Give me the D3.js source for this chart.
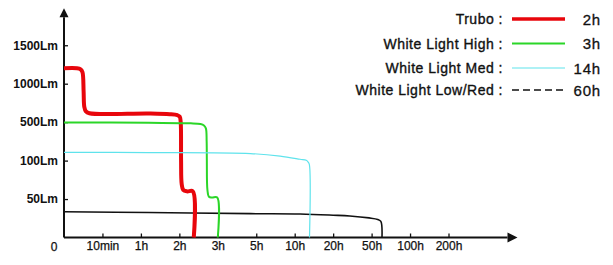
<!DOCTYPE html>
<html>
<head>
<meta charset="utf-8">
<script src="https://cdn.jsdelivr.net/npm/d3@7"></script>
<style>
body { margin: 0; background: #fff; }
text { font-family: "Liberation Sans", Arial, sans-serif; fill: #111; }
</style>
</head>
<body>
<div id="chart"></div>
<script>
var width = 613;
var height = 265;

// tick values (hours / lumens) and their labels
var xTicks = [0, 1 / 6, 1, 2, 3, 5, 10, 20, 50, 100, 200];
var xLabels = ["0", "10min", "1h", "2h", "3h", "5h", "10h", "20h", "50h", "100h", "200h"];
var yTicks = [0, 50, 100, 500, 1000, 1500];
var yLabels = ["0", "50Lm", "100Lm", "500Lm", "1000Lm", "1500Lm"];

// [hours, lumens]
var turbo = [[0, 1200], [0.056, 1200], [0.072, 1186], [0.080, 1150], [0.085, 900], [0.088, 700],
    [0.095, 640], [0.11, 615], [1.2, 612], [1.75, 603], [1.95, 590], [2.01, 572], [2.035, 500],
    [2.045, 100], [2.06, 70], [2.1, 62], [2.2, 60], [2.35, 60], [2.375, 0]];
var high = [[0, 497], [1.2, 493], [2.3, 488], [2.55, 480], [2.64, 466], [2.69, 435], [2.71, 300],
    [2.715, 100], [2.73, 62], [2.77, 53], [2.85, 52], [2.985, 52], [3.0, 0]];
var med = [[0, 186], [1.2, 183], [4.7, 173], [8.1, 147], [11.4, 114], [13.0, 103], [13.5, 98],
    [13.8, 95], [13.85, 0]];
var low = [[0, 33.5], [1.2, 32.5], [4.7, 31], [11.4, 30.5], [20, 29], [33, 28], [48, 25.5],
    [58, 23.5], [62, 21], [63.5, 0]];

var seriesNames = ["Trubo :", "White Light High :", "White Light Med :", "White Light Low/Red :"];
var seriesHours = ["2h", "3h", "14h", "60h"];
var seriesData = [turbo, high, med, low];
var seriesColors = ["#e8060c", "#2bd628", "#5fe3ec", "#111"];
var seriesWidths = [4, 2, 1.2, 1.6];

var x0 = 64, y0 = 237.5, step = 38.45;

var x = d3.scaleLinear()
    .domain(xTicks)
    .range(xTicks.map(function (d, i) { return x0 + i * step; }));

var y = d3.scaleLinear()
    .domain(yTicks)
    .range(yTicks.map(function (d, i) { return y0 - i * step; }));

var svg = d3.select("#chart").append("svg")
    .attr("width", width)
    .attr("height", height);

// x axis
var xAxis = d3.axisBottom(x)
    .tickValues(xTicks.slice(1))
    .tickFormat(function (d) { return xLabels[xTicks.indexOf(d)]; })
    .tickSizeInner(-4)
    .tickSizeOuter(0)
    .tickPadding(4);

var gx = svg.append("g")
    .attr("transform", "translate(0," + y0 + ")")
    .call(xAxis);
gx.select(".domain").remove();
gx.selectAll("line").attr("stroke", "#111").attr("stroke-width", 1.3);
gx.selectAll("text").attr("font-size", 12).attr("fill", "#111")
    .attr("stroke", "#111").attr("stroke-width", 0.25)
    .attr("font-family", "Liberation Sans, Arial, sans-serif");

svg.append("text")
    .attr("x", x(0) - 10)
    .attr("y", 251)
    .attr("text-anchor", "middle")
    .attr("font-size", 12)
    .attr("stroke", "#111").attr("stroke-width", 0.25)
    .text(xLabels[0]);

// y axis
var yAxis = d3.axisLeft(y)
    .tickValues(yTicks.slice(1))
    .tickFormat(function (d) { return yLabels[yTicks.indexOf(d)]; })
    .tickSizeInner(-4)
    .tickSizeOuter(0)
    .tickPadding(6);

var gy = svg.append("g")
    .attr("transform", "translate(" + x0 + ",0)")
    .call(yAxis);
gy.select(".domain").remove();
gy.selectAll("line").attr("stroke", "#111").attr("stroke-width", 1.3);
gy.selectAll("text").attr("font-size", 12).attr("font-weight", "bold").attr("fill", "#111")
    .attr("font-family", "Liberation Sans, Arial, sans-serif");

// axis lines with arrow heads
var xEnd = x(200) + 59;
var yTop = y(1500) - 28;
svg.append("line")
    .attr("x1", x0).attr("y1", y0).attr("x2", xEnd).attr("y2", y0)
    .attr("stroke", "#111").attr("stroke-width", 2);
svg.append("line")
    .attr("x1", x0).attr("y1", y0).attr("x2", x0).attr("y2", yTop)
    .attr("stroke", "#111").attr("stroke-width", 2);
svg.append("path")
    .attr("d", "M" + (xEnd + 10) + "," + y0 + "L" + xEnd + "," + (y0 - 5) + "L" + xEnd + "," + (y0 + 5) + "Z")
    .attr("fill", "#111");
svg.append("path")
    .attr("d", "M" + x0 + "," + (yTop - 9) + "L" + (x0 - 4.5) + "," + yTop + "L" + (x0 + 4.5) + "," + yTop + "Z")
    .attr("fill", "#111");

// curves
var line = d3.line()
    .x(function (d) { return x(d[0]); })
    .y(function (d) { return y(d[1]); })
    .curve(d3.curveCatmullRom.alpha(0.5));

var order = [3, 0, 1, 2];
order.forEach(function (i) {
    svg.append("path")
        .datum(seriesData[i])
        .attr("d", line)
        .attr("fill", "none")
        .attr("stroke", seriesColors[i])
        .attr("stroke-width", seriesWidths[i])
        .attr("stroke-linejoin", "round");
});

// legend
var legendY = [19, 43.5, 68, 90];
var legend = svg.append("g");
seriesNames.forEach(function (name, i) {
    legend.append("text")
        .attr("x", 503)
        .attr("y", legendY[i] + 5)
        .attr("text-anchor", "end")
        .attr("font-size", 14)
        .attr("letter-spacing", 0.5)
        .attr("stroke", "#111").attr("stroke-width", 0.35)
        .text(name);
    legend.append("line")
        .attr("x1", 512).attr("x2", 565)
        .attr("y1", legendY[i]).attr("y2", legendY[i])
        .attr("stroke", seriesColors[i])
        .attr("stroke-width", i == 3 ? 1.5 : Math.min(seriesWidths[i], 3.5))
        .attr("stroke-dasharray", i == 3 ? "7,4" : null);
    legend.append("text")
        .attr("x", 601)
        .attr("y", legendY[i] + 5.5)
        .attr("text-anchor", "end")
        .attr("font-size", 15)
        .attr("letter-spacing", 0.8)
        .attr("stroke", "#111").attr("stroke-width", 0.3)
        .text(seriesHours[i]);
});
</script>
</body>
</html>
